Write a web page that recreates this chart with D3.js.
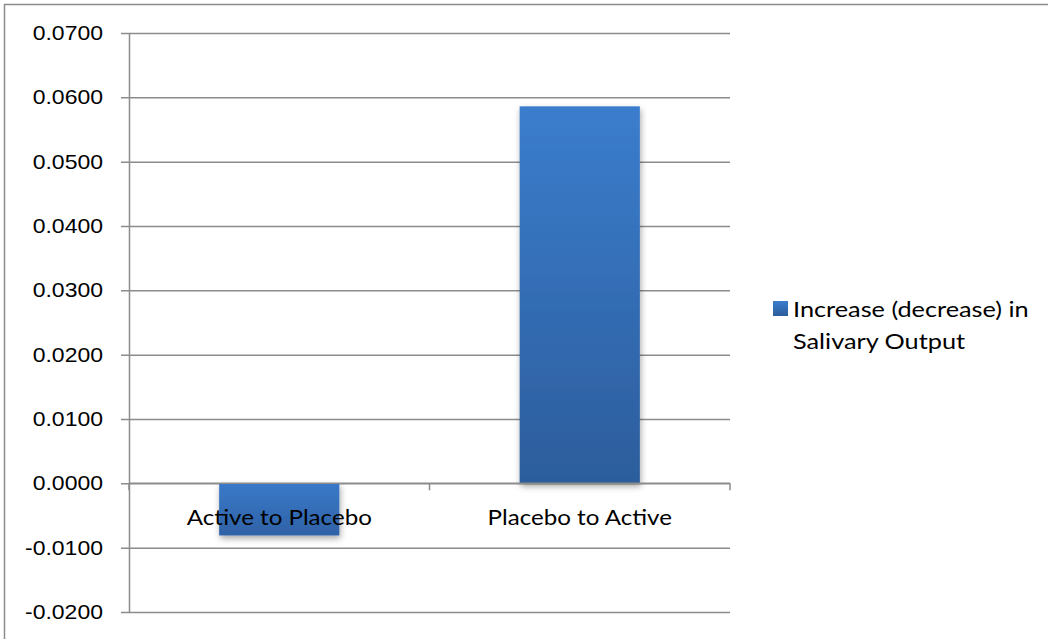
<!DOCTYPE html>
<html>
<head>
<meta charset="utf-8">
<script src="https://cdn.jsdelivr.net/npm/d3@7"></script>
<style>
  html, body { margin: 0; padding: 0; background: #fff; }
  svg { display: block; font-family: "Lato", "Open Sans", sans-serif; }
</style>
</head>
<body>
<svg id="chart" width="1048" height="639"></svg>
<script>
// Change in salivary output by treatment order
const categories = ["Active to Placebo", "Placebo to Active"];
const values = [-0.0081, 0.0586];
const seriesName = ["Increase (decrease) in", "Salivary Output"];
const yTicks = [-0.02, -0.01, 0, 0.01, 0.02, 0.03, 0.04, 0.05, 0.06, 0.07];

const svg = d3.select("#chart");
const W = 1048, H = 639;
const plot = { left: 129, right: 730, top: 33, bottom: 612 };
const SX = 1.15; // horizontal text stretch

// frame around the chart area
svg.append("path")
  .attr("d", `M4.5,${H} V4.5 H${W}`)
  .attr("fill", "none").attr("stroke", "#8c8c8c").attr("stroke-width", 1.5);

const y = d3.scaleLinear().domain([-0.02, 0.07]).range([plot.bottom, plot.top]);
const x = d3.scaleBand().domain(categories).range([plot.left, plot.right]).paddingInner(0.6).paddingOuter(0.3);

const defs = svg.append("defs");
const grad = defs.append("linearGradient").attr("id", "barFill")
  .attr("x1", 0).attr("y1", 0).attr("x2", 0).attr("y2", 1);
grad.append("stop").attr("offset", "0%").attr("stop-color", "#3b7dcd");
grad.append("stop").attr("offset", "100%").attr("stop-color", "#2c5d9c");
const gradNeg = defs.append("linearGradient").attr("id", "barFillNeg")
  .attr("x1", 0).attr("y1", 0).attr("x2", 0).attr("y2", 1);
gradNeg.append("stop").attr("offset", "0%").attr("stop-color", "#3a79c8");
gradNeg.append("stop").attr("offset", "100%").attr("stop-color", "#2f62a6");
const shadow = defs.append("filter").attr("id", "shadow")
  .attr("x", "-20%").attr("y", "-20%").attr("width", "140%").attr("height", "140%");
shadow.append("feDropShadow").attr("dx", 1).attr("dy", 3).attr("stdDeviation", 3)
  .attr("flood-color", "#000").attr("flood-opacity", 0.35);

// horizontal gridlines and y axis
const fmt = d => d3.format(".4f")(d).replace("\u2212", "-");
const yAxis = d3.axisLeft(y).tickValues(yTicks).tickFormat(fmt)
  .tickSize(-(plot.right - plot.left)).tickSizeOuter(0).tickPadding(0);
const gy = svg.append("g").attr("transform", `translate(${plot.left},0)`).call(yAxis);
gy.select(".domain").attr("stroke", "#8c8c8c").attr("stroke-width", 1.5);
gy.selectAll(".tick line").attr("stroke", "#8c8c8c").attr("stroke-width", 1.5).attr("x1", -8);
gy.selectAll(".tick text")
  .attr("x", 0)
  .attr("transform", `translate(-26,0) scale(${SX},1)`)
  .attr("font-size", 20).attr("fill", "#000");

// bars
svg.append("g").selectAll("rect").data(values).join("rect")
  .attr("x", (d, i) => x(categories[i]))
  .attr("width", x.bandwidth())
  .attr("y", d => y(Math.max(0, d)))
  .attr("height", d => Math.abs(y(d) - y(0)))
  .attr("fill", d => d < 0 ? "url(#barFillNeg)" : "url(#barFill)")
  .attr("filter", "url(#shadow)");

// category axis on the zero line
const step = (plot.right - plot.left) / categories.length;
const gx = svg.append("g").attr("transform", `translate(0,${y(0)})`);
gx.append("line").attr("x1", plot.left).attr("x2", plot.right)
  .attr("stroke", "#8c8c8c").attr("stroke-width", 1.5);
gx.selectAll("line.tk").data(d3.range(categories.length + 1)).join("line")
  .attr("class", "tk")
  .attr("x1", i => plot.left + i * step).attr("x2", i => plot.left + i * step)
  .attr("y1", 0).attr("y2", 7)
  .attr("stroke", "#8c8c8c").attr("stroke-width", 1.5);
gx.selectAll("text").data(categories).join("text")
  .attr("transform", (d, i) => `translate(${plot.left + (i + 0.5) * step},42) scale(${SX},1)`)
  .attr("text-anchor", "middle")
  .attr("font-size", 21).attr("fill", "#000")
  .text(d => d);

// legend
const lg = svg.append("g").attr("transform", "translate(773,301)");
lg.append("rect").attr("width", 15).attr("height", 15).attr("fill", "url(#barFill)");
lg.selectAll("text").data(seriesName).join("text")
  .attr("transform", (d, i) => `translate(20,${16 + i * 32}) scale(${SX},1)`)
  .attr("font-size", 22).attr("fill", "#000")
  .text(d => d);
</script>
</body>
</html>
